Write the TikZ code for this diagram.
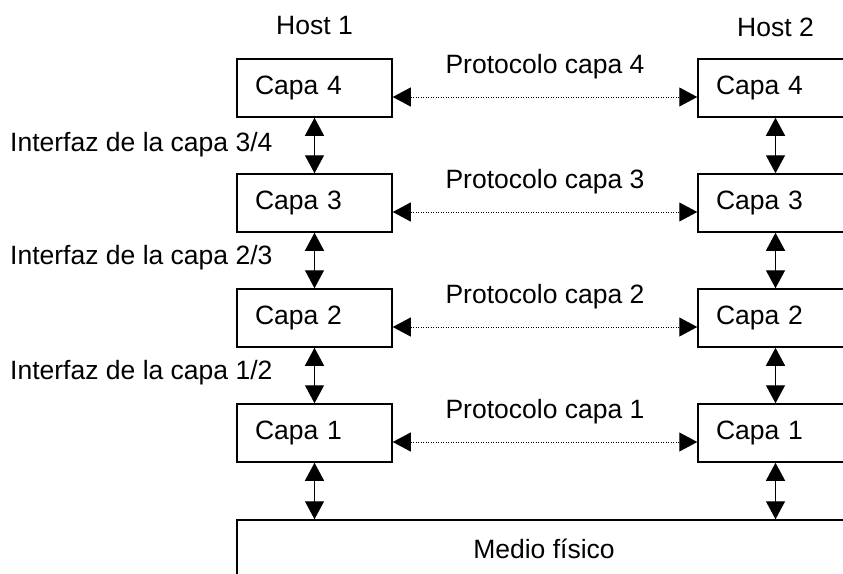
\documentclass[tikz,border=0pt]{standalone}
\usepackage{fontspec}
\setmainfont{Liberation Sans}
\usetikzlibrary{arrows.meta}
\tikzset{
  capa/.style={draw, line width=1.5pt, minimum height=58pt, text width=119pt, inner xsep=18pt, align=left},
  flecha/.style={line width=1.3pt, {Triangle[length=18pt,width=19pt]}-{Triangle[length=18pt,width=19pt]}},
  proto/.style={line width=1pt, dash pattern=on 1pt off 1.5pt, {Triangle[length=18pt,width=19pt]}-{Triangle[length=18pt,width=19pt]}},
  etiq/.style={inner sep=0pt}
}
\begin{document}
\begin{tikzpicture}[x=1pt,y=-1pt,font=\fontsize{26.5}{30}\selectfont]
                    \path[use as bounding box, clip] (0,0) rectangle (843,573);
                    %NODE
                    \node[etiq] (H1) at (314.5,26){Host 1};
                    \node[etiq] (H2) at (775.5,27){Host 2};
                    \node[capa] (A4) at (314.5,88){Capa 4};
                    \node[capa] (A3) at (314.5,203){Capa 3};
                    \node[capa] (A2) at (314.5,318){Capa 2};
                    \node[capa] (A1) at (314.5,433){Capa 1};
                    \node[capa] (B4) at (775.5,88){Capa 4};
                    \node[capa] (B3) at (775.5,203){Capa 3};
                    \node[capa] (B2) at (775.5,318){Capa 2};
                    \node[capa] (B1) at (775.5,433){Capa 1};
                    \node[draw, line width=1.5pt, minimum width=614pt, minimum height=58pt] (M) at (544,549){Medio físico};
                    \node[etiq] (P4) at (545,67){Protocolo capa 4};
                    \node[etiq] (P3) at (545,182){Protocolo capa 3};
                    \node[etiq] (P2) at (545,297){Protocolo capa 2};
                    \node[etiq] (P1) at (545,412){Protocolo capa 1};
                    \node[etiq, anchor=west] (I34) at (10,145){Interfaz de la capa 3/4};
                    \node[etiq, anchor=west] (I23) at (10,258){Interfaz de la capa 2/3};
                    \node[etiq, anchor=west] (I12) at (10,373){Interfaz de la capa 1/2};

                    %EDGE
                    \draw[flecha] (A4) -- (A3);
                    \draw[flecha] (A3) -- (A2);
                    \draw[flecha] (A2) -- (A1);
                    \draw[flecha] (A1) -- (A1 |- M.north);
                    \draw[flecha] (B4) -- (B3);
                    \draw[flecha] (B3) -- (B2);
                    \draw[flecha] (B2) -- (B1);
                    \draw[flecha] (B1) -- (B1 |- M.north);
                    \draw[proto] ([yshift=-9pt]A4.east) -- ([yshift=-9pt]B4.west);
                    \draw[proto] ([yshift=-9pt]A3.east) -- ([yshift=-9pt]B3.west);
                    \draw[proto] ([yshift=-9pt]A2.east) -- ([yshift=-9pt]B2.west);
                    \draw[proto] ([yshift=-9pt]A1.east) -- ([yshift=-9pt]B1.west);
                \end{tikzpicture}
\end{document}
